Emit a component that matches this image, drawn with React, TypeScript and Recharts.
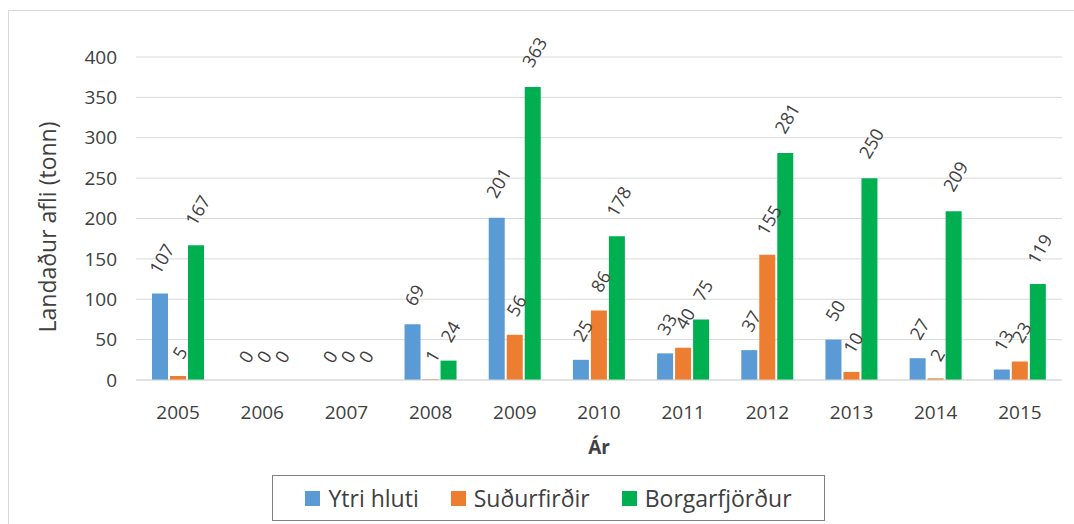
import React from 'react';
import { BarChart, Bar, XAxis, YAxis, CartesianGrid, LabelList, Label } from 'recharts';

const years = ['2005', '2006', '2007', '2008', '2009', '2010', '2011', '2012', '2013', '2014', '2015'];
const ytriHluti = [107, 0, 0, 69, 201, 25, 33, 37, 50, 27, 13];
const sudurfirdir = [5, 0, 0, 1, 56, 86, 40, 155, 10, 2, 23];
const borgarfjordur = [167, 0, 0, 24, 363, 178, 75, 281, 250, 209, 119];
const yTicks = [0, 50, 100, 150, 200, 250, 300, 350, 400];

const seriesNames = ['Ytri hluti', 'Suðurfirðir', 'Borgarfjörður'];
const seriesKeys = ['ytri', 'sudur', 'borgar'];
const seriesColors = ['#5B9BD5', '#ED7D31', '#00B050'];

const data = years.map((year, i) => ({
  year,
  ytri: ytriHluti[i],
  sudur: sudurfirdir[i],
  borgar: borgarfjordur[i],
}));

const FONT = "'Open Sans', sans-serif";

const renderLabel = (props: any) => {
  const { x, y, width, height, value } = props;
  const s = String(value);
  const h = Number(height) || 0;
  const top = h < 0 ? Number(y) + h : Number(y);
  const cx = Number(x) + Number(width) / 2 + 1.5;
  const cy = top - (17.75 + 5.75 * s.length);
  return (
    <text
      x={cx}
      y={cy}
      textAnchor="middle"
      dominantBaseline="central"
      transform={`rotate(-60 ${cx} ${cy})`}
      fontSize={18}
      fill="#404040"
      fontFamily={FONT}
    >
      {s}
    </text>
  );
};

const YTitle = (props: any) => {
  const cx = 47;
  const cy = 227;
  return (
    <text
      x={cx}
      y={cy}
      textAnchor="middle"
      dominantBaseline="central"
      transform={`rotate(-90 ${cx} ${cy})`}
      fontSize={23}
      fill="#404040"
      fontFamily={FONT}
    >
      Landaður afli (tonn)
    </text>
  );
};

export default function App() {
  return (
    <div style={{ position: 'relative', width: 1074, height: 524, background: '#fff', overflow: 'hidden', fontFamily: FONT }}>
      <style>{`html,body{margin:0;padding:0;overflow:hidden;background:#fff}`}</style>
      <div
        style={{
          position: 'absolute',
          left: 8,
          top: 10,
          width: 1080,
          height: 530,
          border: '1px solid #d9d9d9',
          boxSizing: 'border-box',
        }}
      />
      <div style={{ position: 'absolute', left: 0, top: 0 }}>
        <BarChart
          width={1074}
          height={524}
          data={data}
          margin={{ top: 57, right: 12, bottom: 84, left: 76 }}
          barSize={16}
          barGap={2}
        >
          <CartesianGrid horizontal vertical={false} stroke="#d9d9d9" />
          <XAxis
            dataKey="year"
            height={60}
            tickLine={false}
            tickSize={0}
            tickMargin={26}
            axisLine={{ stroke: '#d9d9d9' }}
            tick={{ fontSize: 19, fill: '#404040', fontFamily: FONT }}
            interval={0}
          >
            <Label
              value="Ár"
              position="insideBottom"
              offset={-14}
              style={{ fontSize: 19, fontWeight: 700, fill: '#404040', fontFamily: FONT }}
            />
          </XAxis>
          <YAxis
            width={60}
            domain={[0, 400]}
            ticks={yTicks}
            axisLine={false}
            tickLine={false}
            tickSize={0}
            tickMargin={19}
            interval={0}
            tick={{ fontSize: 19, fill: '#404040', fontFamily: FONT }}
          >
            <Label content={<YTitle />} />
          </YAxis>
          {seriesKeys.map((k, i) => (
            <Bar
              key={k}
              dataKey={k}
              name={seriesNames[i]}
              fill={seriesColors[i]}
              minPointSize={0.01}
              isAnimationActive={false}
            >
              <LabelList dataKey={k} content={renderLabel} />
            </Bar>
          ))}
        </BarChart>
      </div>
      <div
        style={{
          position: 'absolute',
          left: 272,
          top: 475,
          width: 553,
          height: 46,
          border: '1.5px solid #7f7f7f',
          boxSizing: 'border-box',
          display: 'flex',
          alignItems: 'center',
          justifyContent: 'center',
          gap: 32,
        }}
      >
        {seriesNames.map((n, i) => (
          <div key={n} style={{ display: 'flex', alignItems: 'center', gap: 8 }}>
            <div style={{ width: 15, height: 15, background: seriesColors[i] }} />
            <span style={{ fontSize: 23, color: '#404040', fontFamily: FONT, lineHeight: '26px' }}>{n}</span>
          </div>
        ))}
      </div>
    </div>
  );
}
